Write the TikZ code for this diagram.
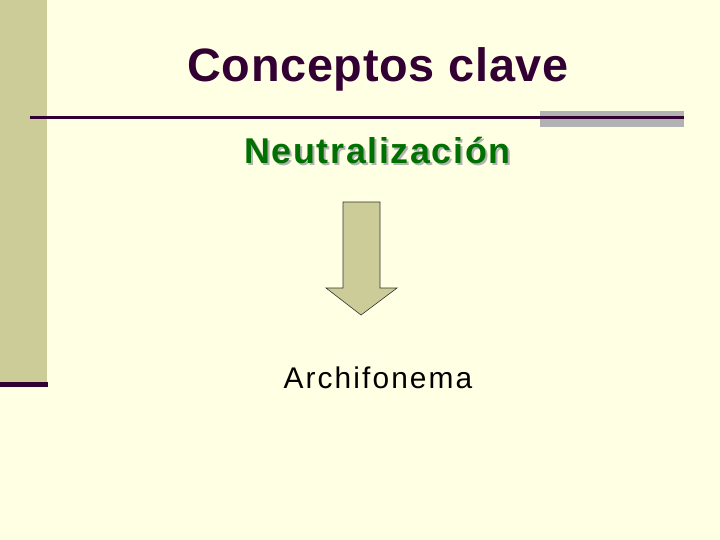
\documentclass[tikz,border=0pt]{standalone}
\usepackage{fontspec}
\setmainfont{Liberation Sans}
\usepackage{xcolor}
\usetikzlibrary{positioning}
\definecolor{slidebg}{HTML}{FFFFE3}
\definecolor{olivebar}{HTML}{CCCC99}
\definecolor{plum}{HTML}{330033}
\definecolor{leafgreen}{HTML}{007000}
\definecolor{shadowgrey}{HTML}{B2B2B2}

\begin{document}
\begin{tikzpicture}[
  x=1bp, y=-1bp,
  every node/.style={inner sep=0pt, anchor=base},
  titletext/.style={font=\fontsize{47}{50}\selectfont\bfseries\addfontfeature{LetterSpace=1.5}, text=plum},
  keytext/.style={font=\fontsize{36}{40}\selectfont\bfseries\addfontfeature{LetterSpace=4.5}},
  plaintext/.style={font=\fontsize{30}{32}\selectfont\addfontfeature{LetterSpace=7}, text=black}
]
% background and frame
\fill[slidebg] (0,0) rectangle (720,540);
\useasboundingbox (0,0) rectangle (720,540);
\fill[olivebar] (0,0) rectangle (47,382);
\fill[plum] (0,382) rectangle (48,387);
\fill[shadowgrey] (540,111) rectangle (684,127);
\draw[plum, line width=3bp] (30,118) -- (684,118);

% texts
\node[titletext] (title) at (378,82) {Conceptos clave};
\node[keytext, text=shadowgrey] (keyshadow) at (379.5,166) {Neutralización};
\node[keytext, text=leafgreen] (key) at (377.5,164) {Neutralización};
\node[plaintext] (result) at (378,388) {Archifonema};

% arrow
\draw[fill=olivebar, draw=black!80, line width=0.6bp]
  (343,202) -- (380,202) -- (380,288) -- (397,288) -- (361,315)
  -- (326,288) -- (343,288) -- cycle;
\end{tikzpicture}
\end{document}
